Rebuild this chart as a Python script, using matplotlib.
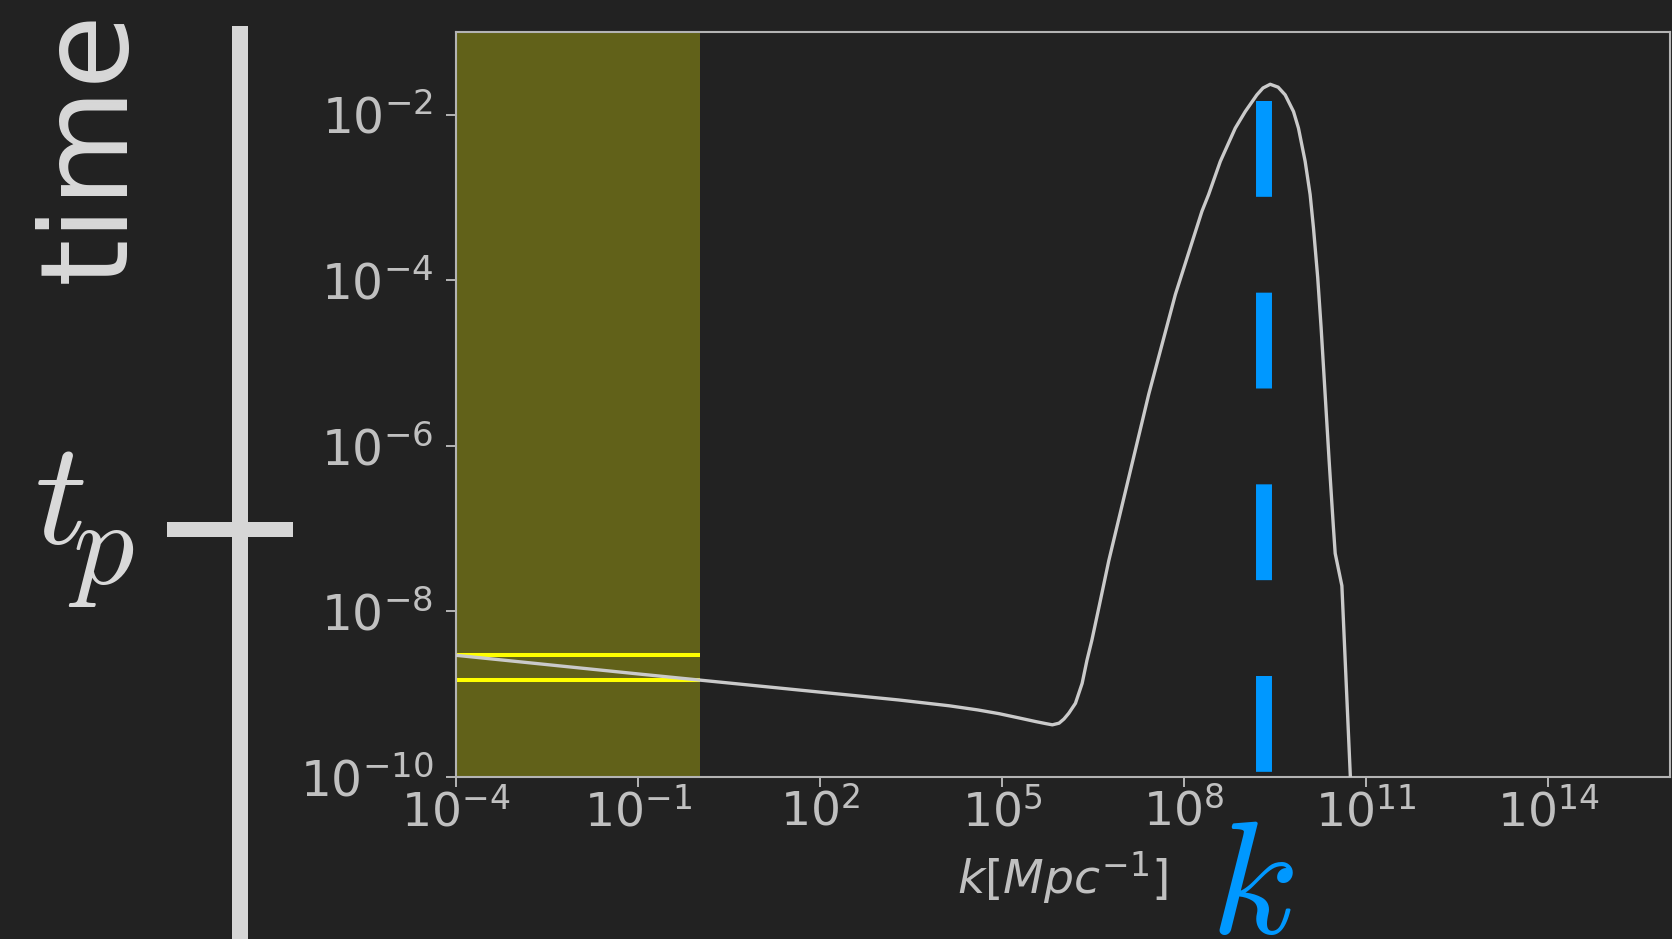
import matplotlib
matplotlib.use('Agg')
import matplotlib.pyplot as plt
import numpy as np
from matplotlib.patches import Rectangle

log_k = [-4.0, -1.0, 2.0, 3.3, 4.13, 4.6, 4.95, 5.3, 5.55, 5.72, 5.83, 5.94, 6.02, 6.1, 6.21,
         6.32, 6.40, 6.48, 6.6, 6.76, 7.089, 7.418, 7.857, 8.294, 8.404, 8.597, 8.843, 9.008,
         9.199, 9.3, 9.419, 9.55, 9.666, 9.803, 9.885, 9.995, 10.077, 10.132, 10.202, 10.258,
         10.324, 10.39, 10.46, 10.49, 10.6, 10.74, 10.8]
log_p = [-8.53, -8.755, -8.975, -9.07, -9.14, -9.19, -9.235, -9.29, -9.33, -9.355, -9.37, -9.35,
         -9.3, -9.23, -9.11,
         -8.87, -8.59, -8.35, -7.94, -7.386, -6.382, -5.377, -4.172, -3.169, -2.967, -2.566, -2.165,
         -1.964,
         -1.763, -1.68, -1.635, -1.67, -1.763, -1.964, -2.165, -2.566, -2.967, -3.37, -3.97, -4.575,
         -5.377, -6.18, -6.98, -7.30, -7.69, -10.0, -11.0]

k_band = [1e-4, 1.04]          # shaded (observed) range
p_band = [2.95e-9, 1.48e-9]    # horizontal markers inside the band
k_peak = 2.1e9                 # dashed marker

x_ticks = [1e-4, 1e-1, 1e2, 1e5, 1e8, 1e11, 1e14]
y_ticks = [1e-10, 1e-8, 1e-6, 1e-4, 1e-2]

bg = '#222222'
fg = '#c0c0c0'
W, H = 1672, 939

fig = plt.figure(figsize=(W / 100, H / 100), dpi=100, facecolor=bg)
ax = fig.add_axes([455.8 / W, 1 - 777 / H, (1669.6 - 455.8) / W, (777 - 31.7) / H])
ax.set_facecolor(bg)

ax.axvspan(k_band[0], k_band[1], color='#616119', lw=0, zorder=1)
ax.hlines(p_band, k_band[0], k_band[1], colors='#ffff00', lw=2.9, zorder=2)
ax.plot(10 ** np.array(log_k), 10 ** np.array(log_p), color='#cacaca', lw=2.4, zorder=3,
        solid_joinstyle='round')
ax.plot([k_peak, k_peak], [0.907, 0.005], transform=ax.get_xaxis_transform(),
        color='#0098ff', lw=11.5, dashes=(6, 6), solid_capstyle='butt', zorder=4)

ax.set_xscale('log')
ax.set_yscale('log')
ax.set_xlim(1e-4, 1e16)
ax.set_ylim(1e-10, 1e-1)
ax.set_xticks(x_ticks)
ax.set_yticks(y_ticks)
ax.minorticks_off()

for s in ax.spines.values():
    s.set_color('#b4b4b4')
    s.set_linewidth(1.5)
ax.tick_params(axis='x', colors=fg, labelsize=34, length=7, width=1.3, pad=1)
ax.tick_params(axis='y', colors=fg, labelsize=35, length=7, width=1.3, pad=9)
ax.set_xlabel(r'$k[Mpc^{-1}]$', color=fg, fontsize=34, labelpad=10)

# time axis on the left
light = '#d6d6d6'
fig.add_artist(Rectangle((231.7 / W, 0), 16 / W, 1 - 26 / H, transform=fig.transFigure,
                         color=light, lw=0))
fig.add_artist(Rectangle((167 / W, 1 - 537.3 / H), 126 / W, 15.6 / H, transform=fig.transFigure,
                         color=light, lw=0))
fig.text(125 / W, 1 - 283 / H, 'time', color='#d9d9d9', fontsize=87, rotation=90,
         rotation_mode='anchor', ha='left', va='baseline')
fig.text(34 / W, 1 - 543 / H, r'$t$', color='#d9d9d9', fontsize=106, math_fontfamily='cm',
         ha='left', va='baseline')
fig.text(68 / W, 1 - 584 / H, r'$p$', color='#d9d9d9', fontsize=88, math_fontfamily='cm',
         ha='left', va='baseline')
fig.text(1210 / W, 1 - 933 / H, r'$k$', color='#0098ff', fontsize=116, math_fontfamily='cm',
         ha='left', va='baseline')

fig.savefig('out.png', dpi=100, facecolor=bg)
